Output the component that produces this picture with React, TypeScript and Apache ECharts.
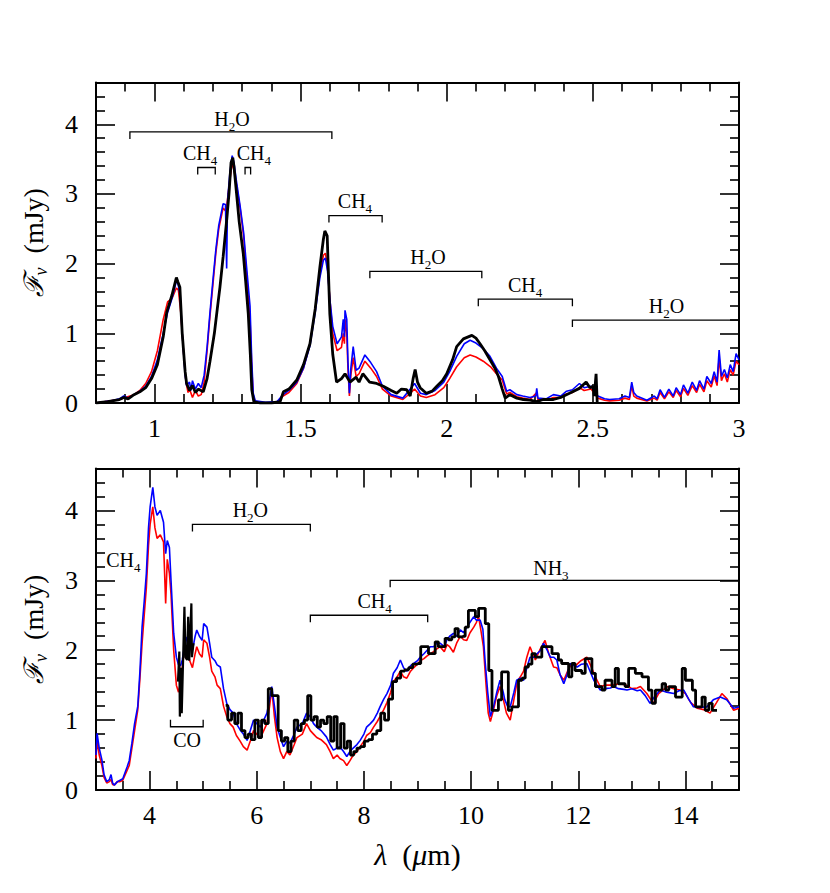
import React, { useEffect, useRef } from 'react';
import * as echarts from 'echarts';

// ---------------- data: top panel (0.8 - 3 micron) ----------------
const topBlack: [number, number][] = [
  [0.8,0.0],[0.84,0.02],[0.88,0.05],[0.895,0.08],[0.91,0.06],[0.93,0.12],[0.95,0.16],[0.97,0.22],[0.99,0.35],[1.01,0.55],
  [1.03,0.95],[1.042,1.3],[1.06,1.55],[1.075,1.8],[1.08,1.74],[1.087,1.66],[1.095,1.0],[1.105,0.45],[1.11,0.28],[1.12,0.18],
  [1.13,0.25],[1.14,0.15],[1.15,0.2],[1.167,0.16],[1.18,0.35],[1.19,0.6],[1.205,1.0],[1.215,1.35],[1.224,1.66],[1.235,2.1],
  [1.247,2.62],[1.255,3.0],[1.262,3.45],[1.268,3.52],[1.272,3.4],[1.281,3.0],[1.29,2.6],[1.304,2.14],[1.312,1.75],[1.321,1.28],
  [1.328,0.7],[1.333,0.19],[1.34,0.02],[1.36,0.0],[1.4,0.0],[1.43,0.02],[1.441,0.16],[1.46,0.2],[1.487,0.33],[1.51,0.55],
  [1.532,0.85],[1.55,1.35],[1.566,1.95],[1.578,2.35],[1.583,2.47],[1.591,2.4],[1.595,1.9],[1.6,1.28],[1.61,0.7],[1.623,0.3],
  [1.64,0.35],[1.652,0.42],[1.669,0.3],[1.69,0.37],[1.7,0.3],[1.713,0.42],[1.736,0.3],[1.76,0.28],[1.783,0.24],[1.81,0.18],
  [1.829,0.14],[1.845,0.2],[1.863,0.19],[1.875,0.1],[1.885,0.35],[1.892,0.48],[1.9,0.3],[1.909,0.22],[1.93,0.14],[1.95,0.17],
  [1.966,0.24],[1.985,0.32],[2.0,0.42],[2.02,0.62],[2.034,0.81],[2.057,0.92],[2.086,0.97],[2.1,0.93],[2.114,0.85],[2.13,0.75],
  [2.148,0.62],[2.165,0.5],[2.177,0.38],[2.19,0.2],[2.2,0.07],[2.216,0.12],[2.24,0.07],[2.262,0.05],[2.285,0.04],[2.308,0.02],
  [2.33,0.05],[2.365,0.05],[2.39,0.08],[2.42,0.14],[2.454,0.21],[2.477,0.3],[2.49,0.22],[2.5,0.24],[2.505,0.1],[2.511,0.42],[2.515,0.0]
];

const topBlue: [number, number][] = [
  [0.8,0.0],[0.85,0.03],[0.88,0.06],[0.895,0.1],[0.91,0.07],[0.93,0.12],[0.95,0.17],[0.97,0.24],[0.99,0.38],[1.01,0.62],
  [1.03,1.0],[1.045,1.3],[1.06,1.5],[1.075,1.75],[1.08,1.72],[1.088,1.55],[1.095,1.0],[1.105,0.4],[1.11,0.25],[1.12,0.3],
  [1.125,0.18],[1.13,0.32],[1.14,0.2],[1.15,0.28],[1.16,0.22],[1.17,0.4],[1.18,0.8],[1.19,1.3],[1.2,1.76],[1.21,2.2],
  [1.22,2.55],[1.235,2.86],[1.243,2.85],[1.247,1.93],[1.25,2.9],[1.258,3.3],[1.266,3.55],[1.272,3.45],[1.28,3.2],[1.293,2.83],
  [1.305,2.45],[1.315,1.96],[1.327,1.39],[1.333,0.6],[1.338,0.14],[1.345,0.03],[1.38,0.01],[1.42,0.02],[1.44,0.12],[1.46,0.18],
  [1.487,0.3],[1.51,0.5],[1.532,0.82],[1.55,1.3],[1.566,1.8],[1.578,2.05],[1.585,2.08],[1.592,1.9],[1.6,1.5],[1.61,1.1],
  [1.625,0.85],[1.64,0.95],[1.646,1.2],[1.65,0.95],[1.652,1.33],[1.658,1.2],[1.662,0.6],[1.667,0.14],[1.672,0.5],[1.68,0.81],
  [1.69,0.47],[1.7,0.5],[1.72,0.69],[1.74,0.58],[1.76,0.45],[1.78,0.24],[1.81,0.12],[1.85,0.07],[1.875,0.2],[1.89,0.28],
  [1.91,0.14],[1.93,0.12],[1.96,0.18],[1.99,0.3],[2.01,0.45],[2.034,0.67],[2.06,0.85],[2.08,0.9],[2.1,0.86],[2.125,0.78],
  [2.148,0.67],[2.17,0.5],[2.19,0.38],[2.205,0.17],[2.216,0.19],[2.24,0.12],[2.26,0.1],[2.285,0.08],[2.305,0.1],[2.308,0.21],
  [2.312,0.07],[2.34,0.06],[2.365,0.12],[2.39,0.1],[2.41,0.17],[2.43,0.19],[2.454,0.28],[2.47,0.22],[2.494,0.24],[2.517,0.1],
  [2.54,0.06],[2.557,0.05],[2.59,0.06],[2.61,0.1],[2.625,0.08],[2.633,0.3],[2.64,0.15],[2.65,0.1],[2.685,0.04],[2.71,0.1],
  [2.72,0.06],[2.73,0.19],[2.745,0.08],[2.76,0.2],[2.775,0.1],[2.785,0.22],[2.8,0.12],[2.81,0.26],[2.825,0.14],[2.84,0.3],
  [2.855,0.18],[2.865,0.32],[2.88,0.2],[2.89,0.38],[2.905,0.28],[2.915,0.45],[2.925,0.3],[2.932,0.76],[2.94,0.38],[2.95,0.48],
  [2.96,0.36],[2.97,0.55],[2.98,0.45],[2.99,0.71],[3.0,0.62]
];

const topRed: [number, number][] = [
  [0.8,0.0],[0.85,0.03],[0.88,0.05],[0.9,0.08],[0.93,0.12],[0.95,0.18],[0.97,0.28],[0.99,0.45],[1.01,0.75],[1.03,1.2],
  [1.045,1.45],[1.06,1.5],[1.075,1.65],[1.082,1.62],[1.09,1.3],[1.1,0.7],[1.108,0.3],[1.115,0.15],[1.12,0.2],[1.13,0.08],
  [1.14,0.18],[1.15,0.1],[1.16,0.12],[1.17,0.3],[1.18,0.75],[1.19,1.25],[1.2,1.7],[1.21,2.15],[1.22,2.5],[1.235,2.8],
  [1.245,2.75],[1.255,3.1],[1.266,3.45],[1.272,3.35],[1.28,3.15],[1.293,2.8],[1.305,2.4],[1.315,1.85],[1.327,1.2],[1.333,0.5],
  [1.338,0.1],[1.345,0.02],[1.38,0.0],[1.42,0.01],[1.44,0.1],[1.46,0.15],[1.487,0.28],[1.51,0.5],[1.532,0.85],[1.55,1.35],
  [1.566,1.85],[1.578,2.12],[1.585,2.15],[1.592,1.95],[1.6,1.5],[1.61,1.0],[1.625,0.75],[1.64,0.8],[1.646,1.0],[1.65,0.85],
  [1.652,1.2],[1.658,1.0],[1.662,0.5],[1.667,0.1],[1.672,0.4],[1.68,0.65],[1.69,0.38],[1.7,0.42],[1.72,0.6],[1.74,0.5],
  [1.76,0.38],[1.78,0.2],[1.81,0.1],[1.85,0.05],[1.875,0.14],[1.89,0.2],[1.91,0.1],[1.93,0.08],[1.96,0.12],[1.99,0.22],
  [2.01,0.35],[2.034,0.52],[2.06,0.65],[2.08,0.69],[2.1,0.66],[2.125,0.6],[2.15,0.52],[2.17,0.42],[2.19,0.33],[2.205,0.13],
  [2.216,0.15],[2.24,0.09],[2.26,0.07],[2.285,0.05],[2.308,0.15],[2.312,0.05],[2.34,0.04],[2.365,0.08],[2.39,0.08],[2.41,0.13],
  [2.43,0.15],[2.454,0.22],[2.47,0.18],[2.494,0.2],[2.517,0.07],[2.54,0.04],[2.557,0.03],[2.59,0.04],[2.61,0.07],[2.625,0.05],
  [2.633,0.25],[2.64,0.1],[2.65,0.07],[2.685,0.03],[2.71,0.07],[2.72,0.04],[2.73,0.15],[2.745,0.06],[2.76,0.16],[2.775,0.08],
  [2.785,0.18],[2.8,0.09],[2.81,0.21],[2.825,0.11],[2.84,0.25],[2.855,0.15],[2.865,0.27],[2.88,0.16],[2.89,0.32],[2.905,0.23],
  [2.915,0.39],[2.925,0.25],[2.932,0.65],[2.94,0.32],[2.95,0.42],[2.96,0.3],[2.97,0.48],[2.98,0.4],[2.99,0.6],[3.0,0.55]
];

// ---------------- data: bottom panel (3 - 15 micron) ----------------
const botBlue: [number, number][] = [
  [3.0,0.5],[3.02,0.81],[3.06,0.6],[3.11,0.43],[3.15,0.22],[3.2,0.12],[3.25,0.15],[3.28,0.22],[3.31,0.1],[3.34,0.07],
  [3.4,0.12],[3.45,0.14],[3.5,0.16],[3.58,0.33],[3.62,0.42],[3.67,0.67],[3.72,0.95],[3.78,1.2],[3.82,1.7],[3.86,2.33],
  [3.9,2.7],[3.94,3.1],[3.98,3.75],[4.01,4.05],[4.06,4.33],[4.1,4.05],[4.14,3.93],[4.2,4.0],[4.26,3.83],[4.3,3.38],
  [4.33,3.57],[4.37,3.47],[4.4,3.0],[4.45,2.24],[4.5,1.9],[4.54,1.79],[4.58,1.78],[4.61,1.86],[4.65,2.05],[4.7,2.19],
  [4.75,2.05],[4.8,2.0],[4.85,2.2],[4.88,2.29],[4.93,2.2],[4.98,2.14],[5.01,2.38],[5.07,2.33],[5.12,2.1],[5.16,1.9],
  [5.22,1.85],[5.26,1.79],[5.32,1.76],[5.38,1.45],[5.44,1.24],[5.5,1.15],[5.56,1.1],[5.62,0.95],[5.69,0.86],[5.75,0.8],
  [5.82,0.71],[5.88,0.85],[5.94,1.0],[6.0,0.95],[6.07,0.9],[6.13,1.0],[6.19,1.1],[6.24,1.3],[6.28,1.48],[6.33,1.2],
  [6.38,0.9],[6.44,0.75],[6.5,0.62],[6.56,0.7],[6.62,0.67],[6.7,0.8],[6.75,0.9],[6.85,0.95],[6.93,1.1],[7.0,1.05],
  [7.06,0.95],[7.12,0.9],[7.2,0.85],[7.3,0.76],[7.37,0.65],[7.43,0.57],[7.5,0.6],[7.55,0.62],[7.62,0.55],[7.68,0.48],
  [7.74,0.55],[7.8,0.6],[7.87,0.65],[7.93,0.71],[8.0,0.8],[8.05,0.9],[8.12,0.95],[8.18,1.0],[8.25,1.1],[8.3,1.19],
  [8.37,1.3],[8.43,1.38],[8.5,1.5],[8.55,1.67],[8.62,1.75],[8.68,1.86],[8.74,1.75],[8.8,1.7],[8.87,1.78],[8.93,1.81],
  [9.0,1.85],[9.05,1.9],[9.12,1.95],[9.18,2.0],[9.24,2.05],[9.3,2.05],[9.36,2.1],[9.42,2.1],[9.5,2.05],[9.55,2.15],
  [9.6,2.2],[9.67,2.24],[9.73,2.2],[9.8,2.29],[9.86,2.25],[9.92,2.33],[9.98,2.4],[10.05,2.48],[10.1,2.43],[10.17,2.43],
  [10.22,2.3],[10.26,1.86],[10.31,1.4],[10.36,1.05],[10.42,1.19],[10.48,1.4],[10.54,1.57],[10.6,1.4],[10.63,1.29],[10.68,1.2],
  [10.73,1.19],[10.8,1.4],[10.85,1.57],[10.92,1.6],[10.98,1.57],[11.04,1.75],[11.1,1.9],[11.17,1.9],[11.23,1.95],[11.3,2.0],
  [11.35,2.1],[11.42,2.0],[11.48,1.9],[11.54,1.9],[11.6,1.86],[11.66,1.65],[11.73,1.52],[11.79,1.65],[11.85,1.81],[11.92,1.78],
  [11.98,1.76],[12.06,1.8],[12.16,1.81],[12.22,1.7],[12.29,1.57],[12.35,1.5],[12.41,1.43],[12.5,1.45],[12.6,1.46],[12.66,1.48],
  [12.75,1.45],[12.85,1.44],[12.91,1.43],[13.0,1.45],[13.1,1.42],[13.16,1.43],[13.25,1.35],[13.34,1.24],[13.42,1.33],[13.53,1.43],
  [13.65,1.4],[13.78,1.38],[13.88,1.42],[13.97,1.43],[14.06,1.3],[14.15,1.19],[14.25,1.18],[14.4,1.19],[14.52,1.29],[14.65,1.33],
  [14.77,1.29],[14.9,1.17],[15.0,1.19]
];

const botRed: [number, number][] = [
  [3.0,0.45],[3.02,0.72],[3.06,0.5],[3.11,0.35],[3.15,0.18],[3.2,0.1],[3.25,0.12],[3.28,0.15],[3.31,0.08],[3.34,0.07],
  [3.4,0.12],[3.45,0.12],[3.5,0.14],[3.58,0.28],[3.62,0.35],[3.67,0.6],[3.72,0.85],[3.78,1.15],[3.82,1.6],[3.86,2.1],
  [3.9,2.5],[3.94,2.9],[3.98,3.5],[4.01,3.8],[4.06,4.05],[4.1,3.75],[4.14,3.6],[4.2,3.65],[4.26,3.55],[4.3,2.67],
  [4.33,3.3],[4.37,3.1],[4.4,2.8],[4.45,2.0],[4.5,1.5],[4.54,1.4],[4.58,1.55],[4.61,1.75],[4.65,2.0],[4.7,2.0],
  [4.75,1.85],[4.8,1.75],[4.85,1.95],[4.88,2.05],[4.93,1.95],[4.98,1.9],[5.01,2.15],[5.07,2.1],[5.12,1.9],[5.16,1.7],
  [5.22,1.62],[5.26,1.5],[5.32,1.45],[5.38,1.2],[5.44,1.05],[5.5,0.95],[5.56,0.9],[5.62,0.78],[5.69,0.7],[5.75,0.62],
  [5.82,0.57],[5.88,0.7],[5.94,0.85],[6.0,0.8],[6.07,0.75],[6.13,0.85],[6.19,0.95],[6.24,1.2],[6.28,1.45],[6.33,1.05],
  [6.38,0.75],[6.44,0.55],[6.5,0.45],[6.56,0.55],[6.62,0.5],[6.7,0.65],[6.75,0.75],[6.85,0.8],[6.93,0.95],[7.0,0.85],
  [7.06,0.8],[7.12,0.75],[7.2,0.72],[7.3,0.65],[7.37,0.55],[7.43,0.45],[7.5,0.5],[7.55,0.45],[7.62,0.42],[7.68,0.35],
  [7.74,0.42],[7.8,0.5],[7.87,0.55],[7.93,0.62],[8.0,0.7],[8.05,0.78],[8.12,0.82],[8.18,0.9],[8.25,0.98],[8.3,1.05],
  [8.37,1.15],[8.43,1.25],[8.5,1.4],[8.55,1.55],[8.62,1.62],[8.68,1.7],[8.74,1.62],[8.8,1.6],[8.87,1.7],[8.93,1.75],
  [9.0,1.8],[9.05,1.85],[9.12,1.88],[9.18,1.92],[9.24,1.95],[9.3,1.98],[9.36,2.02],[9.42,2.05],[9.5,1.98],[9.55,2.08],
  [9.6,2.05],[9.67,1.97],[9.73,2.1],[9.8,2.2],[9.86,2.15],[9.92,2.14],[9.98,2.25],[10.05,2.33],[10.1,2.4],[10.14,2.48],
  [10.18,2.3],[10.23,2.05],[10.28,1.5],[10.32,1.1],[10.36,0.98],[10.42,1.15],[10.48,1.35],[10.54,1.48],[10.6,1.3],[10.66,1.1],
  [10.73,1.0],[10.8,1.3],[10.86,1.55],[10.92,1.62],[10.98,1.7],[11.04,1.9],[11.1,2.05],[11.15,1.95],[11.2,1.86],[11.28,2.0],
  [11.38,2.14],[11.45,1.95],[11.54,1.76],[11.6,1.75],[11.66,1.65],[11.73,1.57],[11.8,1.7],[11.88,1.81],[11.95,1.78],[12.05,1.85],
  [12.16,1.9],[12.25,1.75],[12.33,1.6],[12.41,1.48],[12.5,1.5],[12.6,1.5],[12.78,1.52],[12.9,1.5],[13.0,1.45],[13.1,1.46],
  [13.16,1.48],[13.28,1.38],[13.4,1.24],[13.5,1.38],[13.66,1.48],[13.78,1.45],[13.9,1.43],[14.0,1.38],[14.1,1.25],[14.22,1.17],
  [14.34,1.15],[14.46,1.1],[14.58,1.25],[14.68,1.38],[14.78,1.3],[14.9,1.14],[15.0,1.17]
];

const botBlackSpikes: [number, number][] = [
  [4.53,1.55],[4.555,1.98],[4.565,1.05],[4.58,1.75],[4.6,1.1],[4.63,2.0],[4.65,2.62],[4.67,1.9],[4.7,1.86],[4.72,2.48],
  [4.74,1.85],[4.78,2.67],[4.79,1.9],[4.82,2.1]
];

const botBlackSteps: [number, number][] = [
  [5.42,1.21],[5.5,1.0],[5.56,1.1],[5.62,0.95],[5.68,1.1],[5.75,0.85],[5.81,0.75],[5.87,0.8],[5.93,0.72],[6.0,1.0],
  [6.06,0.75],[6.12,1.0],[6.18,0.95],[6.25,1.45],[6.31,1.35],[6.37,1.35],[6.43,0.85],[6.49,0.7],[6.55,0.75],[6.61,0.55],
  [6.67,0.7],[6.73,1.0],[6.8,0.85],[6.86,0.95],[6.92,1.0],[6.98,1.35],[7.04,1.0],[7.1,1.05],[7.16,0.9],[7.22,1.0],
  [7.28,0.95],[7.35,1.05],[7.41,0.7],[7.47,1.05],[7.53,0.6],[7.6,0.95],[7.66,0.6],[7.72,0.7],[7.78,0.5],[7.84,0.55],
  [7.9,0.6],[7.97,0.62],[8.05,0.7],[8.12,0.72],[8.2,0.8],[8.28,0.85],[8.35,1.1],[8.42,1.0],[8.5,1.3],[8.57,1.55],
  [8.65,1.6],[8.72,1.7],[8.8,1.72],[8.87,1.75],[8.95,1.8],[9.02,1.81],[9.1,2.05],[9.17,2.05],[9.24,1.95],[9.3,1.95],
  [9.36,2.12],[9.42,2.05],[9.48,2.05],[9.55,2.17],[9.61,2.15],[9.67,2.19],[9.73,2.31],[9.79,2.19],[9.86,2.2],[9.92,2.33],
  [9.98,2.57],[10.05,2.57],[10.11,2.48],[10.17,2.6],[10.23,2.6],[10.3,2.38],[10.36,1.71],[10.42,1.14],[10.48,1.14],[10.54,1.29],
  [10.6,1.69],[10.66,1.69],[10.73,1.14],[10.79,1.19],[10.85,1.19],[10.92,1.57],[10.98,1.6],[11.04,1.76],[11.1,1.8],[11.17,1.95],
  [11.23,1.9],[11.29,1.9],[11.35,2.05],[11.42,2.05],[11.48,2.05],[11.54,1.95],[11.6,1.95],[11.66,1.86],[11.72,1.81],[11.79,1.81],
  [11.85,1.62],[11.91,1.81],[11.97,1.71],[12.03,1.71],[12.1,1.67],[12.16,1.88],[12.22,1.88],[12.29,1.67],[12.35,1.48],[12.41,1.48],
  [12.47,1.43],[12.53,1.57],[12.6,1.57],[12.66,1.48],[12.72,1.74],[12.78,1.52],[12.84,1.52],[12.91,1.48],[12.97,1.74],[13.03,1.74],
  [13.1,1.67],[13.16,1.67],[13.22,1.62],[13.28,1.62],[13.34,1.43],[13.41,1.24],[13.47,1.43],[13.53,1.43],[13.6,1.52],[13.66,1.43],
  [13.72,1.48],[13.78,1.48],[13.85,1.33],[13.91,1.33],[13.97,1.74],[14.03,1.57],[14.1,1.57],[14.16,1.43],[14.22,1.19],[14.28,1.19],
  [14.34,1.33],[14.4,1.14],[14.47,1.24],[14.53,1.14],[14.59,1.14]
];

// ---------------- axes ----------------
const topXTicks = [1, 1.5, 2, 2.5, 3];
const botXTicks = [4, 6, 8, 10, 12, 14];
const yTicks = [0, 1, 2, 3, 4];
const topXRange = [0.8, 3];
const botXRange = [3, 15];
const yRange = [0, 4.6];

// ---------------- annotations: [x1, x2, y, labelX, labelY, hookLeft, hookRight] ----------------
// hook: 1 = downward, -1 = upward, 0 = none
const topAnnoLabels = ['H2O', 'CH4', 'CH4', 'CH4', 'H2O', 'CH4', 'H2O'];
const topAnno: number[][] = [
  [0.916, 1.607, 3.89, 1.265, 4.08, 1, 1],
  [1.148, 1.208, 3.38, 1.156, 3.59, 1, 1],
  [1.31, 1.329, 3.38, 1.34, 3.59, 1, 1],
  [1.597, 1.779, 2.69, 1.686, 2.9, 1, 1],
  [1.737, 2.12, 1.89, 1.936, 2.1, 1, 1],
  [2.108, 2.43, 1.49, 2.268, 1.69, 1, 1],
  [2.43, 3.0, 1.19, 2.752, 1.39, 1, 0]
];
const botAnnoLabels = ['CH4', 'H2O', 'CO', 'CH4', 'NH3'];
const botAnno: number[][] = [
  [3.51, 3.51, 3.29, 3.51, 3.29, 0, 0],
  [4.8, 7.0, 3.8, 5.88, 4.0, 1, 1],
  [4.39, 5.0, 0.905, 4.7, 0.72, -1, -1],
  [7.0, 9.19, 2.5, 8.2, 2.71, 1, 1],
  [8.49, 15.0, 3.0, 11.49, 3.17, 1, 0]
];

const SERIF = 'Liberation Serif';

const toRich = (s: string) =>
  s.replace(/([A-Za-z]+)(\d)?/g, (_m, a, d) => `{m|${a}}` + (d ? `{s|${d}}` : ''));

const annoRich = {
  m: { fontSize: 20, fontFamily: SERIF, lineHeight: 28, verticalAlign: 'middle', color: '#000' },
  s: { fontSize: 13, fontFamily: SERIF, verticalAlign: 'bottom', color: '#000' }
};

const makeRender = (labels: string[]) => (params: any, api: any) => {
  const x1 = api.value(0), x2 = api.value(1), y = api.value(2);
  const lx = api.value(3), ly = api.value(4), hl = api.value(5), hr = api.value(6);
  const p1 = api.coord([x1, y]);
  const p2 = api.coord([x2, y]);
  const pl = api.coord([lx, ly]);
  const H = 7;
  const children: any[] = [];
  if (x2 > x1) {
    const pts: number[][] = [];
    if (hl) pts.push([p1[0], p1[1] + hl * H]);
    pts.push([p1[0], p1[1]], [p2[0], p2[1]]);
    if (hr) pts.push([p2[0], p2[1] + hr * H]);
    children.push({ type: 'polyline', shape: { points: pts }, style: { stroke: '#000', lineWidth: 1.3, fill: null } });
  }
  children.push({
    type: 'text',
    x: pl[0],
    y: pl[1],
    style: { text: toRich(labels[params.dataIndex]), rich: annoRich, align: 'center', verticalAlign: 'middle' }
  });
  return { type: 'group', children };
};

const fmt = (ticks: number[]) => (v: number) =>
  ticks.some((t) => Math.abs(t - v) < 1e-6) ? String(v) : '';

const tickCommon = { show: true, inside: true, length: 19, lineStyle: { color: '#000', width: 1.6 } };
const minorCommon = (n: number) => ({ show: true, splitNumber: n, length: 9, lineStyle: { color: '#000', width: 1.6 } });
const lineCommon = { show: true, onZero: false, lineStyle: { color: '#000', width: 2 } };
const labelStyle = { color: '#000', fontFamily: SERIF, fontSize: 26 };

const yName = '{f|ℱ}{v|ν}{t|  (mJy)}';
const yNameStyle = {
  fontFamily: SERIF,
  rich: {
    f: { fontSize: 27, fontFamily: 'DejaVu Serif', fontStyle: 'italic', lineHeight: 34, verticalAlign: 'middle', color: '#000' },
    v: { fontSize: 18, fontFamily: SERIF, fontStyle: 'italic', verticalAlign: 'bottom', color: '#000' },
    t: { fontSize: 28, fontFamily: SERIF, verticalAlign: 'middle', color: '#000' }
  }
};

function buildOption() {
  const mkX = (grid: number, range: number[], ticks: number[], split: number, minor: number, pos: 'bottom' | 'top', showLabel: boolean, name?: string) => ({
    type: 'value',
    gridIndex: grid,
    position: pos,
    min: range[0],
    max: range[1],
    splitNumber: split,
    axisLine: lineCommon,
    axisTick: tickCommon,
    minorTick: minorCommon(minor),
    splitLine: { show: false },
    axisLabel: { show: showLabel, margin: 12, formatter: fmt(ticks), ...labelStyle },
    name: name || '',
    nameLocation: 'middle',
    nameGap: 49,
    nameTextStyle: {
      fontFamily: SERIF,
      rich: {
        l: { fontSize: 30, fontFamily: SERIF, fontStyle: 'italic', color: '#000' },
        t: { fontSize: 30, fontFamily: SERIF, color: '#000' },
        u: { fontSize: 30, fontFamily: SERIF, fontStyle: 'italic', color: '#000' }
      }
    }
  });
  const mkY = (grid: number, pos: 'left' | 'right', showLabel: boolean, withName: boolean) => ({
    type: 'value',
    gridIndex: grid,
    position: pos,
    min: yRange[0],
    max: yRange[1],
    splitNumber: 5,
    axisLine: lineCommon,
    axisTick: tickCommon,
    minorTick: minorCommon(5),
    splitLine: { show: false },
    axisLabel: { show: showLabel, margin: 18, formatter: fmt(yTicks), ...labelStyle },
    name: withName ? yName : '',
    nameLocation: 'middle',
    nameGap: 46,
    nameRotate: 90,
    nameTextStyle: yNameStyle
  });

  const line = (data: any, color: string, width: number, xi: number, yi: number, extra: any = {}) => ({
    type: 'line',
    data,
    xAxisIndex: xi,
    yAxisIndex: yi,
    showSymbol: false,
    symbol: 'none',
    smooth: false,
    lineStyle: { color, width },
    itemStyle: { color },
    z: 2,
    ...extra
  });

  return {
    animation: false,
    backgroundColor: '#fff',
    textStyle: { fontFamily: SERIF },
    grid: [
      { left: 96, top: 82.5, width: 643, height: 320.5 },
      { left: 96, top: 468.5, width: 643, height: 321.5 }
    ],
    xAxis: [
      mkX(0, topXRange, topXTicks, 5, 5, 'bottom', true),
      mkX(0, topXRange, topXTicks, 5, 5, 'top', false),
      mkX(1, botXRange, botXTicks, 6, 4, 'bottom', true, '{l|λ}{t|  (}{u|μ}{t|m)}'),
      mkX(1, botXRange, botXTicks, 6, 4, 'top', false)
    ],
    yAxis: [
      mkY(0, 'left', true, true),
      mkY(0, 'right', false, false),
      mkY(1, 'left', true, true),
      mkY(1, 'right', false, false)
    ],
    series: [
      line(topRed, '#ff0000', 1.6, 0, 0),
      line(topBlue, '#0000ff', 1.6, 0, 0),
      line(topBlack, '#000000', 2.8, 0, 0),
      line(botRed, '#ff0000', 1.6, 2, 2),
      line(botBlue, '#0000ff', 1.6, 2, 2),
      line(botBlackSpikes, '#000000', 2.2, 2, 2),
      line(botBlackSteps, '#000000', 2.8, 2, 2, { step: 'middle' }),
      {
        type: 'custom',
        xAxisIndex: 0,
        yAxisIndex: 0,
        renderItem: makeRender(topAnnoLabels),
        data: topAnno,
        clip: false,
        z: 5
      },
      {
        type: 'custom',
        xAxisIndex: 2,
        yAxisIndex: 2,
        renderItem: makeRender(botAnnoLabels),
        data: botAnno,
        clip: false,
        z: 5
      }
    ]
  };
}

export default function App() {
  const ref = useRef<HTMLDivElement>(null);
  useEffect(() => {
    if (!ref.current) return;
    const chart = echarts.init(ref.current, undefined, { renderer: 'svg' });
    chart.setOption(buildOption() as any);
    return () => chart.dispose();
  }, []);
  return (
    <div
      ref={ref}
      style={{ position: 'absolute', left: 0, top: 0, width: 830, height: 893, background: '#fff' }}
    />
  );
}
